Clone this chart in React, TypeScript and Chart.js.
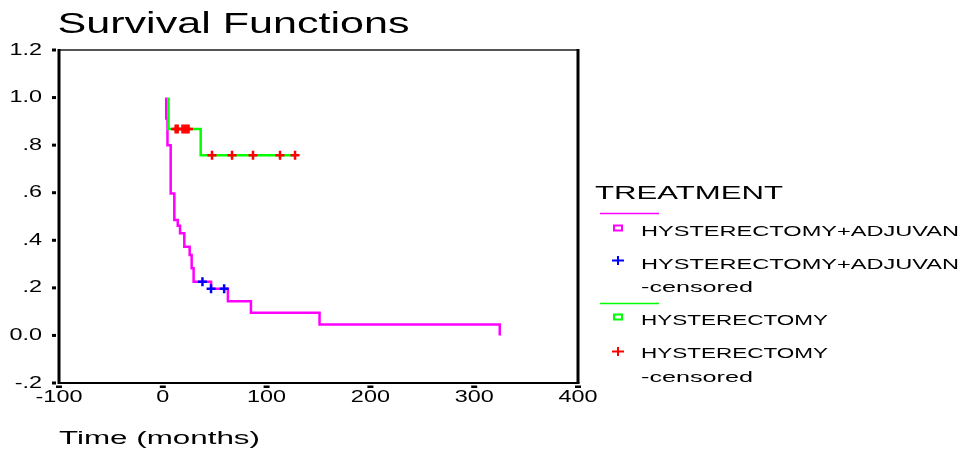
import React, { useEffect, useRef } from "react";
import { Chart, registerables } from "chart.js";

Chart.register(...registerables);

// ---- Data ----
const xTickValues = [-100, 0, 100, 200, 300, 400];
const xTickLabels = ["-100", "0", "100", "200", "300", "400"];
const yTickValues = [1.2, 1.0, 0.8, 0.6, 0.4, 0.2, 0.0, -0.2];
const yTickLabels = ["1.2", "1.0", ".8", ".6", ".4", ".2", "0.0", "-.2"];

// HYSTERECTOMY+ADJUVAN group: event times (months) and survival after each event
const adjEventTimes = [3.3, 4.5, 7.6, 11.1, 14.4, 16.6, 20.7, 25.9, 27.8, 29.7, 46.5, 62.7, 84.9, 151.0, 324.6];
const adjSurvival = [0.912, 0.8, 0.597, 0.485, 0.461, 0.43, 0.373, 0.338, 0.282, 0.226, 0.196, 0.144, 0.095, 0.046, 0.0];
const adjCensorTimes = [38.2, 46.5, 59.1];

// HYSTERECTOMY group
const hystEventTimes = [5.4, 36.5];
const hystSurvival = [0.868, 0.758];
const hystCensorTimes = [12.4, 14.3, 19.0, 21.0, 22.9, 24.8, 47.4, 66.7, 86.9, 112.9, 127.4];

const chartTitle = "Survival Functions";
const xAxisTitle = "Time (months)";
const legendTitle = "TREATMENT";
const groupNames = ["HYSTERECTOMY+ADJUVAN", "HYSTERECTOMY"];
const censoredSuffix = "-censored";

const MAGENTA = "#FF00FF";
const BLUE = "#0000FF";
const GREEN = "#00FF00";
const RED = "#FF0000";
const FONT = '"Liberation Sans", Arial, Helvetica, sans-serif';

function stepCurve(times: number[], surv: number[], endTime?: number) {
  const pts: { x: number; y: number }[] = [{ x: times[0], y: 1 }];
  let prev = 1;
  times.forEach((t, i) => {
    pts.push({ x: t, y: prev });
    pts.push({ x: t, y: surv[i] });
    prev = surv[i];
  });
  if (endTime !== undefined && endTime > times[times.length - 1]) {
    pts.push({ x: endTime, y: prev });
  }
  return pts;
}

function survivalAt(times: number[], surv: number[], t: number) {
  let s = 1;
  times.forEach((et, i) => {
    if (et <= t) s = surv[i];
  });
  return s;
}

function drawText(
  ctx: CanvasRenderingContext2D,
  text: string,
  x: number,
  y: number,
  size: number,
  opts: { width?: number; sx?: number; align?: CanvasTextAlign; baseline?: CanvasTextBaseline }
) {
  ctx.save();
  ctx.font = `${size}px ${FONT}`;
  ctx.textAlign = opts.align || "left";
  ctx.textBaseline = opts.baseline || "alphabetic";
  ctx.fillStyle = "#000";
  const w = ctx.measureText(text).width;
  const sx = opts.width ? opts.width / w : opts.sx || 1;
  ctx.translate(x, y);
  ctx.scale(sx, 1);
  ctx.fillText(text, 0, 0);
  ctx.restore();
}

const decorPlugin = {
  id: "decor",
  afterDatasetsDraw(chart: any) {
    const ctx: CanvasRenderingContext2D = chart.ctx;
    const xs = chart.scales.x;
    const ys = chart.scales.y;
    const a = chart.chartArea;

    ctx.save();
    // frame
    ctx.lineCap = "butt";
    ctx.strokeStyle = "#555";
    ctx.lineWidth = 2;
    ctx.beginPath();
    ctx.moveTo(a.left, a.top);
    ctx.lineTo(a.right, a.top);
    ctx.stroke();
    ctx.strokeStyle = "#000";
    ctx.lineWidth = 3;
    ctx.beginPath();
    ctx.moveTo(a.right, a.top - 1);
    ctx.lineTo(a.right, a.bottom);
    ctx.stroke();
    ctx.beginPath();
    ctx.moveTo(a.left, a.top - 1);
    ctx.lineTo(a.left, a.bottom + 1);
    ctx.stroke();
    ctx.lineWidth = 2;
    ctx.beginPath();
    ctx.moveTo(a.left, a.bottom);
    ctx.lineTo(a.right + 1.5, a.bottom);
    ctx.stroke();

    // tick marks
    ctx.fillStyle = "#000";
    yTickValues.forEach((v) => {
      const py = ys.getPixelForValue(v);
      ctx.fillRect(a.left - 7, py - 1.5, 4, 3);
    });
    xTickValues.forEach((v) => {
      const px = xs.getPixelForValue(v);
      ctx.fillRect(px - 3, a.bottom + 2.5, 6, 2.5);
    });
    ctx.restore();

    // tick labels
    yTickValues.forEach((v, i) => {
      drawText(ctx, yTickLabels[i], 42, ys.getPixelForValue(v), 16.5, { sx: 1.42, align: "right", baseline: "middle" });
    });
    xTickValues.forEach((v, i) => {
      drawText(ctx, xTickLabels[i], xs.getPixelForValue(v), 402, 16.5, { sx: 1.42, align: "center" });
    });

    // titles
    drawText(ctx, chartTitle, 57.5, 33, 29, { width: 352 });
    drawText(ctx, xAxisTitle, 59, 443.5, 18, { width: 201 });

    // legend
    drawText(ctx, legendTitle, 595, 199.3, 19, { width: 188 });
    ctx.save();
    ctx.lineWidth = 1.5;
    ctx.strokeStyle = MAGENTA;
    ctx.beginPath();
    ctx.moveTo(600, 213.5);
    ctx.lineTo(659, 213.5);
    ctx.stroke();
    ctx.strokeStyle = GREEN;
    ctx.beginPath();
    ctx.moveTo(600, 303.5);
    ctx.lineTo(659, 303.5);
    ctx.stroke();

    // square symbols
    ctx.lineWidth = 2;
    ctx.strokeStyle = MAGENTA;
    ctx.strokeRect(614, 225.5, 8, 5);
    ctx.strokeStyle = GREEN;
    ctx.strokeRect(614, 314.5, 8, 5);

    // cross symbols
    const cross = (cx: number, cy: number, color: string) => {
      ctx.strokeStyle = color;
      ctx.lineWidth = 2;
      ctx.beginPath();
      ctx.moveTo(cx - 6, cy);
      ctx.lineTo(cx + 6, cy);
      ctx.moveTo(cx, cy - 4.5);
      ctx.lineTo(cx, cy + 4.5);
      ctx.stroke();
    };
    cross(618, 260.5, BLUE);
    cross(618, 351.5, RED);
    ctx.restore();

    drawText(ctx, groupNames[0], 641, 236, 14, { width: 318 });
    drawText(ctx, groupNames[0], 641, 269.3, 14, { width: 318 });
    drawText(ctx, censoredSuffix, 641, 291.7, 14, { width: 112 });
    drawText(ctx, groupNames[1], 641, 325, 14, { width: 187 });
    drawText(ctx, groupNames[1], 641, 357.7, 14, { width: 187 });
    drawText(ctx, censoredSuffix, 641, 382.3, 14, { width: 112 });
  },
};

export default function App() {
  const canvasRef = useRef<HTMLCanvasElement | null>(null);

  useEffect(() => {
    const canvas = canvasRef.current;
    if (!canvas) return;

    const adjCurve = stepCurve(adjEventTimes, adjSurvival);
    const hystCurve = stepCurve(hystEventTimes, hystSurvival, hystCensorTimes[hystCensorTimes.length - 1]);
    const adjCensored = adjCensorTimes.map((t) => ({ x: t, y: survivalAt(adjEventTimes, adjSurvival, t) }));
    const hystCensored = hystCensorTimes.map((t) => ({ x: t, y: survivalAt(hystEventTimes, hystSurvival, t) }));

    const chart = new Chart(canvas, {
      type: "scatter",
      data: {
        datasets: [
          {
            label: groupNames[0],
            data: adjCurve,
            showLine: true,
            borderColor: MAGENTA,
            backgroundColor: MAGENTA,
            borderWidth: 2.5,
            pointRadius: 0,
            tension: 0,
            order: 4,
          },
          {
            label: groupNames[1],
            data: hystCurve,
            showLine: true,
            borderColor: GREEN,
            backgroundColor: GREEN,
            borderWidth: 2.5,
            pointRadius: 0,
            tension: 0,
            order: 3,
          },
          {
            label: groupNames[0] + censoredSuffix,
            data: adjCensored,
            showLine: false,
            pointStyle: "cross",
            pointRadius: 4.5,
            pointBorderWidth: 2.5,
            borderColor: BLUE,
            backgroundColor: BLUE,
            order: 2,
          },
          {
            label: groupNames[1] + censoredSuffix,
            data: hystCensored,
            showLine: false,
            pointStyle: "cross",
            pointRadius: 4.5,
            pointBorderWidth: 2.5,
            borderColor: RED,
            backgroundColor: RED,
            order: 1,
          },
        ],
      } as any,
      options: {
        animation: false,
        responsive: false,
        devicePixelRatio: 1,
        layout: { padding: { left: 59, top: 50, right: 966 - 578, bottom: 450 - 383 } },
        scales: {
          x: { type: "linear", min: -100, max: 400, display: false },
          y: { type: "linear", min: -0.2, max: 1.2, display: false },
        },
        plugins: {
          legend: { display: false },
          title: { display: false },
          tooltip: { enabled: false },
        },
        events: [],
      } as any,
      plugins: [decorPlugin],
    });

    return () => chart.destroy();
  }, []);

  return (
    <div style={{ position: "absolute", left: 0, top: 0, width: 966, height: 450, background: "#fff" }}>
      <canvas ref={canvasRef} width={966} height={450} style={{ display: "block", width: 966, height: 450 }} />
    </div>
  );
}
